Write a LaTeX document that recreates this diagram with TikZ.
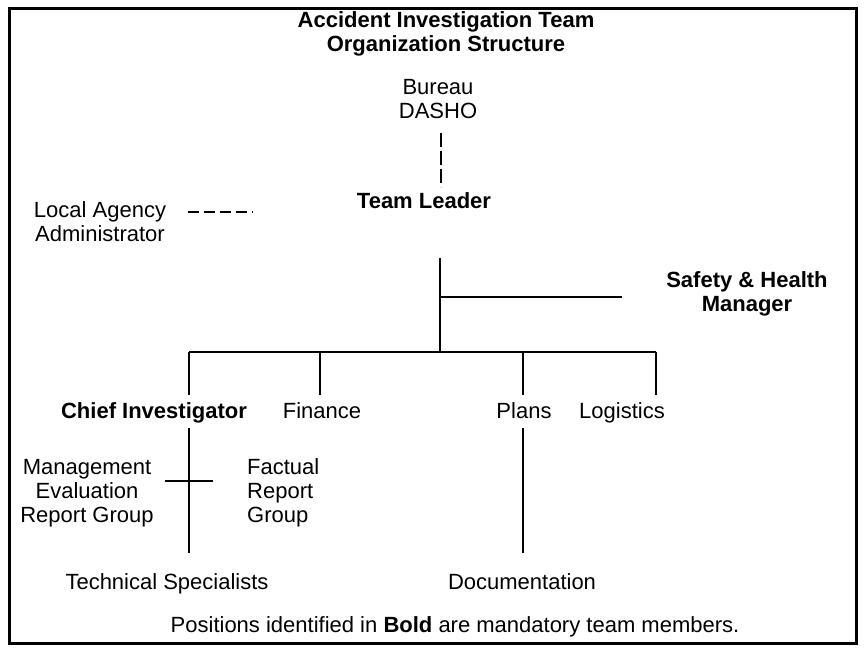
\documentclass[tikz,border=0pt]{standalone}
\usepackage{fontspec}
\setmainfont{Liberation Sans}
\begin{document}
\begin{tikzpicture}[x=1pt,y=-1pt,
  lbl/.style={inner sep=0pt, font=\fontsize{22}{24}\selectfont, align=center},
  blbl/.style={lbl, font=\fontsize{22}{24}\selectfont\bfseries},
  hln/.style={line width=2.8pt},
  vln/.style={line width=2pt},
  dashv/.style={line width=2pt, dash pattern=on 14pt off 4pt},
  dashh/.style={line width=2.8pt, dash pattern=on 11pt off 5pt}]
\useasboundingbox (0,0) rectangle (865,650);
\draw[line width=3pt] (9,9) rectangle (856,643);

% texts
\node[blbl] (title) at (446,34) {Accident Investigation Team\\Organization Structure};
\node[lbl] (bureau) at (438,99) {Bureau\\DASHO};
\node[blbl, anchor=base] (leader) at (424,208) {Team Leader};
\node[lbl] (local) at (100,222) {Local Agency\\Administrator};
\node[blbl] (safety) at (747,294) {Safety \& Health\\Manager};
\node[blbl, anchor=base] (chief) at (154,418) {Chief Investigator};
\node[lbl, anchor=base] (finance) at (322,418) {Finance};
\node[lbl, anchor=base] (plans) at (524,418) {Plans};
\node[lbl, anchor=base] (logistics) at (622,418) {Logistics};
\node[lbl] (mgmt) at (87,493) {Management\\Evaluation\\Report Group};
\node[lbl, align=left, anchor=west] (factual) at (247,493) {Factual\\Report\\Group};
\node[lbl, anchor=base] (tech) at (167,589) {Technical Specialists};
\node[lbl, anchor=base] (doc) at (522,589) {Documentation};
\node[lbl, anchor=base] (foot) at (455,632) {Positions identified in \textbf{Bold} are mandatory team members.};

% coordinates
\coordinate (bur-s) at (441,133);
\coordinate (lead-n) at (441,187);
\coordinate (loc-e) at (188,212);
\coordinate (loc-end) at (253,212);
\coordinate (lead-s) at (440,258);
\coordinate (saf-j) at (440,297);
\coordinate (saf-w) at (622,297);
\coordinate (bus-c) at (440,352);
\coordinate (bus-l) at (189,352);
\coordinate (bus-f) at (320,352);
\coordinate (bus-p) at (523,352);
\coordinate (bus-r) at (656,352);
\coordinate (chief-n) at (189,395);
\coordinate (fin-n) at (320,395);
\coordinate (plans-n) at (523,395);
\coordinate (log-n) at (656,395);
\coordinate (chief-s) at (189,428);
\coordinate (tech-n) at (189,553);
\coordinate (plans-s) at (523,428);
\coordinate (doc-n) at (523,553);
\coordinate (tick-l) at (165,481);
\coordinate (tick-r) at (213,481);

% connectors
\draw[dashv] (bur-s) -- (lead-n);
\draw[dashh] (loc-e) -- (loc-end);
\draw[vln] (lead-s) -- (bus-c);
\draw[hln] (saf-j) -- (saf-w);
\draw[hln] (bus-l) -- (bus-r);
\draw[vln] (bus-l) -- (chief-n);
\draw[vln] (bus-f) -- (fin-n);
\draw[vln] (bus-p) -- (plans-n);
\draw[vln] (bus-r) -- (log-n);
\draw[vln] (chief-s) -- (tech-n);
\draw[vln] (plans-s) -- (doc-n);
\draw[hln] (tick-l) -- (tick-r);
\end{tikzpicture}
\end{document}
